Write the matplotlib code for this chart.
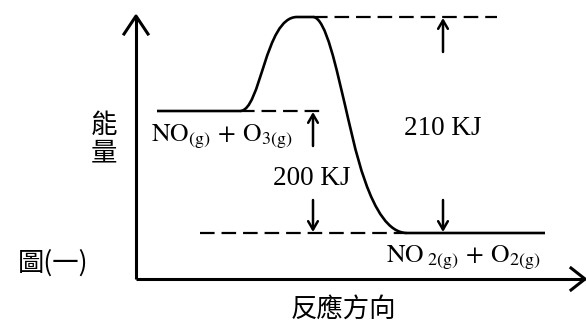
import matplotlib
matplotlib.use("Agg")
import numpy as np
from matplotlib import pyplot as plt
from matplotlib.path import Path
from matplotlib.patches import PathPatch

plt.rcParams['mathtext.fontset'] = 'stix'
plt.rcParams['lines.scale_dashes'] = False

# energy levels (schematic units, measured downward like the picture)
reactant_e = 111
peak_e = 17
product_e = 233

reactant_label = r"$\mathrm{NO}_{(\mathrm{g})}\,+\,\mathrm{O}_{3(\mathrm{g})}$"
product_label = r"$\mathrm{NO}_{\ 2(\mathrm{g})}\,+\,\mathrm{O}_{2(\mathrm{g})}$"
gap_labels = ["200 KJ", "210 KJ"]
y_title = "能\n量"
x_title = "反應方向"
fig_title = "圖(一)"

cjk = ['Noto Sans CJK TC', 'DejaVu Sans']
serif = ['Liberation Serif', 'DejaVu Serif']
K = 'black'

fig = plt.figure(figsize=(5.86, 3.24), dpi=100)
ax = fig.add_axes([0, 0, 1, 1])
ax.set_xlim(0, 586)
ax.set_ylim(324, 0)
ax.axis('off')

# axes with open arrow heads
ax.plot([136, 136], [279, 17], color=K, lw=2.2, solid_capstyle='butt')
ax.plot([124, 136, 148], [34, 16, 34], color=K, lw=2.2)
ax.plot([136, 585], [279, 279], color=K, lw=2.2, solid_capstyle='butt')
ax.plot([571, 585, 571], [268, 279, 290], color=K, lw=2.2)

# reaction curve
x0, x1 = 240, 407
verts = [(157, reactant_e), (x0, reactant_e),
         (261, reactant_e), (265, peak_e), (297, peak_e),
         (313, peak_e),
         (326, peak_e), (337, 72), (345, 105),
         (353, 138), (370, product_e), (x1, product_e),
         (545, product_e)]
codes = [Path.MOVETO, Path.LINETO,
         Path.CURVE4, Path.CURVE4, Path.CURVE4,
         Path.LINETO,
         Path.CURVE4, Path.CURVE4, Path.CURVE4,
         Path.CURVE4, Path.CURVE4, Path.CURVE4,
         Path.LINETO]
ax.add_patch(PathPatch(Path(verts, codes), fill=False, ec=K, lw=1.9,
                       capstyle='butt'))

# dashed guide lines
dash = (0, (10.5, 5))
ax.plot([x0, 322], [reactant_e, reactant_e], color=K, lw=1.6, ls=dash)
ax.plot([313, 497], [peak_e, peak_e], color=K, lw=1.6, ls=dash)
ax.plot([200, x1], [product_e, product_e], color=K, lw=1.6, ls=dash)

# gap arrows
aprops = dict(arrowstyle='->,head_length=0.6,head_width=0.35', color=K, lw=1.8,
              shrinkA=0, shrinkB=0)
for xa, top in [(313, reactant_e), (443, peak_e)]:
    ax.annotate('', xy=(xa, top + 1), xytext=(xa, top + 35), arrowprops=aprops)
    ax.annotate('', xy=(xa, product_e - 1), xytext=(xa, product_e - 33),
                arrowprops=aprops)

ax.text(312, 185, gap_labels[0], fontsize=19.5, family=serif, ha='center',
        va='baseline')
ax.text(443, 135, gap_labels[1], fontsize=19.5, family=serif, ha='center',
        va='baseline')

ax.text(151, 141, reactant_label, fontsize=18.5, ha='left', va='baseline')
ax.text(386, 262, product_label, fontsize=18.5, ha='left', va='baseline')

ax.text(104, 139, y_title, fontsize=19, family=cjk, ha='center', va='center',
        linespacing=1.0)
ax.text(343, 309, x_title, fontsize=19, family=cjk, ha='center', va='center')
ax.text(53, 263, fig_title, fontsize=19, family=cjk, ha='center', va='center')

fig.savefig('out.png', dpi=100)
